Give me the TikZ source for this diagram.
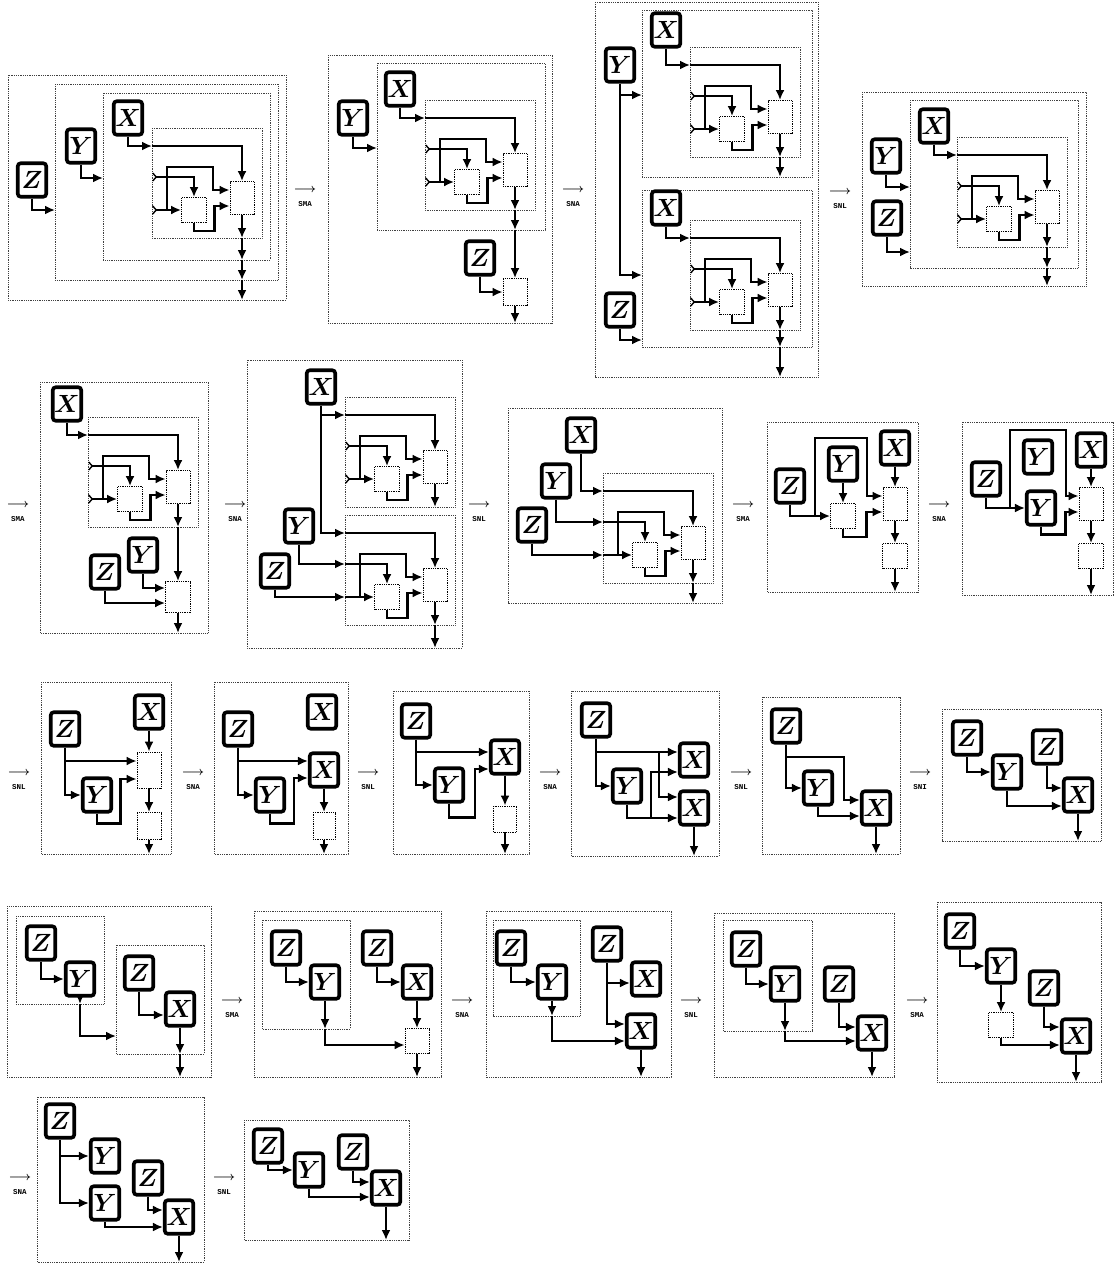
\documentclass[tikz,border=0pt]{standalone}
\usepackage{fontspec}
\newfontfamily\labfont{Liberation Mono}
\usetikzlibrary{arrows.meta,calc}
\tikzset{
 arr/.style={line width=2.6pt, -{Latex[length=10pt,width=9pt]}},
 fk/.style={line width=2.6pt, arrows={Straight Barb[reversed,length=3.5pt,width=8pt,line width=1.4pt]-Latex[length=10pt,width=9pt]}},
 var/.style={draw, line width=3.6pt, rounded corners=3pt, minimum width=28.5pt, minimum height=33.5pt, inner sep=0pt, fill=white, font=\fontsize{23}{23}\selectfont\boldmath},
 ebox/.style={draw, densely dotted, line width=0.8pt, inner sep=0pt, minimum width=25pt, minimum height=25pt},
 bigbox/.style={ebox, minimum width=24pt, minimum height=33pt},
 frm/.style={densely dotted, line width=0.8pt, black!75},
 lab/.style={align=center, inner sep=0pt}
}
\newcommand\corepanel[4]{%
\begin{scope}[shift={(#2,#3)}]
\draw[frm] (0,0) rectangle (110,110);
\node[ebox] (#1A) at (42,82) {};
\node[bigbox] (#1B) at (90,70) {};
\coordinate (#1in) at (0,18);
\coordinate (#1fa) at (0,49);
\coordinate (#1fb) at (0,82);
\coordinate (#1bot) at (90,110);
\draw[arr] (#1in) -| (#1B.north);
\draw[#4] (#1fa) -| (#1A.north);
\draw[#4] (#1fb) -- (#1A.west);
\draw[arr] (15,82) |- (61,39) |- ($(#1B.west)+(0,-8)$);
\draw[arr] (#1A.south) -- ++(0,8) -| ($(#1B.west)+(-15,8)$) -- ($(#1B.west)+(0,8)$);
\draw[arr] (#1B.south) -- (#1bot);
\end{scope}}
\newcommand\trans[4]{\node[lab] (#1) at (#2,#3) {{\fontsize{13}{13}\selectfont\boldmath$\longrightarrow$}\\[2pt]{\fontsize{7.5}{8}\selectfont\labfont\bfseries #4}};}
\begin{document}
\begin{tikzpicture}[x=1pt,y=-1pt]
\useasboundingbox (0,0) rectangle (1114,1266);
% ---------------- Row 1 ----------------
% P1
\draw[frm] (8,75) rectangle (286,300);
\draw[frm] (55,84) rectangle (278,280);
\draw[frm] (103,93) rectangle (270,260);
\corepanel{a}{152}{128}{fk}
\node[var] (p1z) at (32,180) {$Z$};
\node[var] (p1y) at (81,146) {$Y$};
\node[var] (p1x) at (128,118) {$X$};
\draw[arr] (p1z.south) |- (55,210);
\draw[arr] (p1y.south) |- (103,178);
\draw[arr] (p1x.south) |- (ain);
\draw[arr] (abot) -- (242,260);
\draw[arr] (242,260) -- (242,280);
\draw[arr] (242,280) -- (242,300);
\trans{t1}{305}{197}{SMA}
% P2
\draw[frm] (328,55) rectangle (552,323);
\draw[frm] (377,63) rectangle (545,230);
\corepanel{b}{425}{100}{fk}
\node[var] (p2x) at (400,89) {$X$};
\node[var] (p2y) at (353,118) {$Y$};
\node[var] (p2z) at (480,258) {$Z$};
\node[ebox, minimum width=24pt, minimum height=27pt] (p2c) at (515,292) {};
\draw[arr] (p2x.south) |- (bin);
\draw[arr] (p2y.south) |- (377,148);
\draw[arr] (bbot) -- (515,230);
\draw[arr] (515,230) -- (p2c.north);
\draw[arr] (p2z.south) |- (p2c.west);
\draw[arr] (p2c.south) -- (515,323);
\trans{t2}{573}{197}{SNA}
% P3
\draw[frm] (595,2) rectangle (818,377);
\draw[frm] (642,10) rectangle (812,177);
\draw[frm] (642,190) rectangle (812,347);
\corepanel{c}{690}{47}{fk}
\corepanel{d}{690}{220}{fk}
\node[var] (p3xa) at (666,30) {$X$};
\node[var] (p3xb) at (666,208) {$X$};
\node[var] (p3y) at (620,65) {$Y$};
\node[var] (p3z) at (620,310) {$Z$};
\draw[arr] (p3xa.south) |- (cin);
\draw[arr] (p3xb.south) |- (din);
\draw[arr] (p3y.south) |- (642,275);
\draw[arr] (620,95) -- (642,95);
\draw[arr] (p3z.south) |- (642,340);
\draw[arr] (cbot) -- (780,177);
\draw[arr] (dbot) -- (780,347);
\draw[arr] (780,347) -- (780,377);
\trans{t3}{840}{199}{SNL}
% P4
\draw[frm] (862,92) rectangle (1086,286);
\draw[frm] (910,100) rectangle (1078,268);
\corepanel{e}{957}{137}{fk}
\node[var] (p4x) at (934,126) {$X$};
\node[var] (p4y) at (886,156) {$Y$};
\node[var] (p4z) at (887,218) {$Z$};
\draw[arr] (p4x.south) |- (ein);
\draw[arr] (p4y.south) |- (910,187);
\draw[arr] (p4z.south) |- (910,252);
\draw[arr] (ebot) -- (1047,268);
\draw[arr] (1047,268) -- (1047,286);
% ---------------- Row 2 ----------------
\trans{t4}{18}{512}{SMA}
% P5
\draw[frm] (40,382) rectangle (208,633);
\corepanel{f}{88}{417}{fk}
\node[var] (p5x) at (67,404) {$X$};
\node[var] (p5y) at (143,555) {$Y$};
\node[var] (p5z) at (105,572) {$Z$};
\node[ebox, minimum height=31pt] (p5c) at (178,597) {};
\draw[arr] (p5x.south) |- (fin);
\draw[arr] (fbot) -- (p5c.north);
\draw[arr] (p5y.south) |- ($(p5c.west)+(0,-9)$);
\draw[arr] (p5z.south) |- ($(p5c.west)+(0,6)$);
\draw[arr] (p5c.south) -- (178,633);
\trans{t5}{235}{512}{SNA}
% P6
\draw[frm] (247,360) rectangle (462,648);
\corepanel{g}{345}{397}{fk}
\corepanel{h}{345}{515}{arr}
\node[var] (p6x) at (321,387) {$X$};
\node[var] (p6y) at (299,526) {$Y$};
\node[var] (p6z) at (275,571) {$Z$};
\draw[arr] (p6x.south) |- (hin);
\draw[arr] (321,415) -- (gin);
\draw[arr] (p6y.south) |- (hfa);
\draw[arr] (p6z.south) |- (hfb);
\draw[arr] (hbot) -- (435,648);
\trans{t6}{479}{512}{SNL}
% P7
\draw[frm] (508,408) rectangle (722,603);
\corepanel{i}{603}{473}{arr}
\node[var] (p7x) at (581,435) {$X$};
\node[var] (p7y) at (556,481) {$Y$};
\node[var] (p7z) at (532,525) {$Z$};
\draw[arr] (p7x.south) |- (iin);
\draw[arr] (p7y.south) |- (ifa);
\draw[arr] (p7z.south) |- (ifb);
\draw[arr] (ibot) -- (693,603);
\trans{t7}{743}{512}{SMA}
% P8
\draw[frm] (767,422) rectangle (918,592);
\node[var] (p8z) at (790,486) {$Z$};
\node[var] (p8y) at (843,464) {$Y$};
\node[var] (p8x) at (895,448) {$X$};
\node[ebox] (p8a) at (843,516) {};
\node[bigbox] (p8b) at (895,504) {};
\node[ebox] (p8c) at (895,556) {};
\draw[arr] (p8y.south) -- (p8a.north);
\draw[arr] (p8z.south) |- (p8a.west);
\draw[arr] (815,516) |- (867,438) |- ($(p8b.west)+(0,-8)$);
\draw[arr] (p8a.south) -- ++(0,8) -| ($(p8b.west)+(-16,8)$) -- ($(p8b.west)+(0,8)$);
\draw[arr] (p8x.south) -- (p8b.north);
\draw[arr] (p8b.south) -- (p8c.north);
\draw[arr] (p8c.south) -- (895,592);
\trans{t8}{939}{512}{SNA}
% P9
\draw[frm] (962,422) rectangle (1113,595);
\node[var] (p9z) at (986,479) {$Z$};
\node[var] (p9ya) at (1038,457) {$Y$};
\node[var] (p9yb) at (1041,508) {$Y$};
\node[var] (p9x) at (1091,450) {$X$};
\node[bigbox] (p9b) at (1091,504) {};
\node[ebox] (p9c) at (1091,556) {};
\draw[arr] (p9z.south) |- (p9yb.west);
\draw[arr] (1010,508) |- (1066,430) |- ($(p9b.west)+(0,-8)$);
\draw[arr] (p9yb.south) -- ++(0,8) -| ($(p9b.west)+(-13,8)$) -- ($(p9b.west)+(0,8)$);
\draw[arr] (p9x.south) -- (p9b.north);
\draw[arr] (p9b.south) -- (p9c.north);
\draw[arr] (p9c.south) -- (1091,595);
% ---------------- Row 3 ----------------
\trans{t9}{19}{780}{SNL}
% P10
\draw[frm] (41,682) rectangle (171,854);
\node[var] (p10z) at (65,729) {$Z$};
\node[var] (p10y) at (97,795) {$Y$};
\node[var] (p10x) at (149,712) {$X$};
\node[ebox, minimum width=24pt, minimum height=36pt] (p10b) at (149,770) {};
\node[ebox, minimum width=24pt, minimum height=27pt] (p10c) at (149,826) {};
\draw[arr] (p10z.south) |- (p10y.west);
\draw[arr] (65,761) -- ($(p10b.west)+(0,-9)$);
\draw[arr] (p10y.south) -- ++(0,10) -| ($(p10b.west)+(-16,9)$) -- ($(p10b.west)+(0,9)$);
\draw[arr] (p10x.south) -- (p10b.north);
\draw[arr] (p10b.south) -- (p10c.north);
\draw[arr] (p10c.south) -- (149,854);
\trans{t10}{193}{780}{SNA}
% P11
\draw[frm] (214,682) rectangle (348,854);
\node[var] (p11z) at (238,729) {$Z$};
\node[var] (p11y) at (270,795) {$Y$};
\node[var] (p11xa) at (322,712) {$X$};
\node[var] (p11xb) at (324,770) {$X$};
\node[ebox, minimum width=22pt, minimum height=27pt] (p11c) at (324,826) {};
\draw[arr] (p11z.south) |- (p11y.west);
\draw[arr] (238,761) -- ($(p11xb.west)+(0,-9)$);
\draw[arr] (p11y.south) -- ++(0,10) -| ($(p11xb.west)+(-14,8)$) -- ($(p11xb.west)+(0,8)$);
\draw[arr] (p11xb.south) -- (p11c.north);
\draw[arr] (p11c.south) -- (324,854);
\trans{t11}{368}{780}{SNL}
% P12
\draw[frm] (393,691) rectangle (529,854);
\node[var] (p12z) at (416,721) {$Z$};
\node[var] (p12y) at (449,785) {$Y$};
\node[var] (p12x) at (505,757) {$X$};
\node[ebox, minimum width=23pt, minimum height=26pt] (p12c) at (505,819) {};
\draw[arr] (p12z.south) |- (p12y.west);
\draw[arr] (416,752) -- ($(p12x.west)+(0,-5)$);
\draw[arr] (p12y.south) -- ++(0,14) -| ($(p12x.west)+(-14,12)$) -- ($(p12x.west)+(0,12)$);
\draw[arr] (p12x.south) -- (p12c.north);
\draw[arr] (p12c.south) -- (505,854);
\trans{t12}{550}{780}{SNA}
% P13
\draw[frm] (571,691) rectangle (719,856);
\node[var] (p13z) at (596,720) {$Z$};
\node[var] (p13y) at (627,786) {$Y$};
\node[var] (p13xa) at (694,760) {$X$};
\node[var] (p13xb) at (694,808) {$X$};
\draw[arr] (p13z.south) |- (p13y.west);
\draw[arr] (596,752) -- ($(p13xa.west)+(0,-8)$);
\draw[arr] (659,752) |- ($(p13xb.west)+(0,-11)$);
\draw[arr] (p13y.south) |- ($(p13xb.west)+(0,10)$);
\draw[arr] (651,818) |- ($(p13xa.west)+(0,12)$);
\draw[arr] (p13xb.south) -- (694,856);
\trans{t13}{741}{780}{SNL}
% P14
\draw[frm] (762,697) rectangle (900,854);
\node[var] (p14z) at (786,726) {$Z$};
\node[var] (p14y) at (818,788) {$Y$};
\node[var] (p14x) at (876,808) {$X$};
\draw[arr] (p14z.south) |- (p14y.west);
\draw[arr] (786,757) -| (844,800) -- ($(p14x.west)+(0,-8)$);
\draw[arr] (p14y.south) |- ($(p14x.west)+(0,8)$);
\draw[arr] (p14x.south) -- (876,854);
\trans{t14}{920}{780}{SNI}
% P15
\draw[frm] (942,709) rectangle (1101,841);
\node[var] (p15za) at (967,738) {$Z$};
\node[var] (p15y) at (1007,772) {$Y$};
\node[var] (p15zb) at (1047,747) {$Z$};
\node[var] (p15x) at (1078,795) {$X$};
\draw[arr] (p15za.south) |- (p15y.west);
\draw[arr] (p15zb.south) |- ($(p15x.west)+(0,-7)$);
\draw[arr] (p15y.south) |- ($(p15x.west)+(0,11)$);
\draw[arr] (p15x.south) -- (1078,841);
% ---------------- Row 4 ----------------
% P16
\draw[frm] (7,906) rectangle (211,1077);
\draw[frm] (16,916) rectangle (104,1004);
\draw[frm] (116,945) rectangle (204,1054);
\node[var] (p16za) at (41,943) {$Z$};
\node[var] (p16y) at (80,979) {$Y$};
\node[var] (p16zb) at (139,973) {$Z$};
\node[var] (p16x) at (180,1009) {$X$};
\draw[arr] (p16za.south) |- (p16y.west);
\draw[arr] (p16y.south) -- (80,1004);
\draw[arr] (80,1004) |- (116,1036);
\draw[arr] (p16zb.south) |- ($(p16x.west)+(0,6)$);
\draw[arr] (p16x.south) -- (180,1054);
\draw[arr] (180,1054) -- (180,1077);
\trans{t15}{232}{1008}{SMA}
% P17
\draw[frm] (254,911) rectangle (441,1077);
\draw[frm] (262,920) rectangle (350,1029);
\node[var] (p17za) at (286,948) {$Z$};
\node[var] (p17y) at (325,982) {$Y$};
\node[var] (p17zb) at (377,948) {$Z$};
\node[var] (p17x) at (417,982) {$X$};
\node[ebox, minimum width=24pt] (p17c) at (417,1041) {};
\draw[arr] (p17za.south) |- (p17y.west);
\draw[arr] (p17zb.south) |- (p17x.west);
\draw[arr] (p17y.south) -- (325,1029);
\draw[arr] (325,1029) |- ($(p17c.west)+(0,4)$);
\draw[arr] (p17x.south) -- (p17c.north);
\draw[arr] (p17c.south) -- (417,1077);
\trans{t16}{462}{1008}{SNA}
% P18
\draw[frm] (486,911) rectangle (671,1077);
\draw[frm] (493,920) rectangle (580,1016);
\node[var] (p18za) at (511,948) {$Z$};
\node[var] (p18y) at (552,982) {$Y$};
\node[var] (p18zb) at (607,944) {$Z$};
\node[var] (p18xa) at (646,979) {$X$};
\node[var] (p18xb) at (641,1031) {$X$};
\draw[arr] (p18za.south) |- (p18y.west);
\draw[arr] (p18y.south) -- (552,1016);
\draw[arr] (552,1016) |- ($(p18xb.west)+(0,10)$);
\draw[arr] (p18zb.south) |- ($(p18xa.west)+(0,4)$);
\draw[arr] (607,983) |- ($(p18xb.west)+(0,-7)$);
\draw[arr] (p18xb.south) -- (641,1077);
\trans{t17}{691}{1008}{SNL}
% P19
\draw[frm] (714,913) rectangle (894,1077);
\draw[frm] (723,920) rectangle (812,1031);
\node[var] (p19za) at (746,949) {$Z$};
\node[var] (p19y) at (785,984) {$Y$};
\node[var] (p19zb) at (839,984) {$Z$};
\node[var] (p19x) at (872,1033) {$X$};
\draw[arr] (p19za.south) |- (p19y.west);
\draw[arr] (p19y.south) -- (785,1031);
\draw[arr] (785,1031) |- ($(p19x.west)+(0,8)$);
\draw[arr] (p19zb.south) |- ($(p19x.west)+(0,-6)$);
\draw[arr] (p19x.south) -- (872,1077);
\trans{t18}{917}{1008}{SMA}
% P20
\draw[frm] (937,902) rectangle (1101,1082);
\node[var] (p20za) at (960,931) {$Z$};
\node[var] (p20y) at (1001,966) {$Y$};
\node[ebox] (p20a) at (1001,1025) {};
\node[var] (p20zb) at (1044,988) {$Z$};
\node[var] (p20x) at (1076,1036) {$X$};
\draw[arr] (p20za.south) |- (p20y.west);
\draw[arr] (p20y.south) -- (p20a.north);
\draw[arr] (p20a.south) |- ($(p20x.west)+(0,9)$);
\draw[arr] (p20zb.south) |- ($(p20x.west)+(0,-9)$);
\draw[arr] (p20x.south) -- (1076,1082);
% ---------------- Row 5 ----------------
\trans{t19}{20}{1185}{SNA}
% P21
\draw[frm] (37,1097) rectangle (204,1262);
\node[var] (p21za) at (60,1121) {$Z$};
\node[var] (p21ya) at (105,1156) {$Y$};
\node[var] (p21yb) at (105,1203) {$Y$};
\node[var] (p21zb) at (148,1178) {$Z$};
\node[var] (p21x) at (179,1217) {$X$};
\draw[arr] (p21za.south) |- (p21ya.west);
\draw[arr] (60,1156) |- (p21yb.west);
\draw[arr] (p21zb.south) |- ($(p21x.west)+(0,-7)$);
\draw[arr] (p21yb.south) |- ($(p21x.west)+(0,10)$);
\draw[arr] (p21x.south) -- (179,1262);
\trans{t20}{224}{1185}{SNL}
% P22
\draw[frm] (244,1120) rectangle (409,1240);
\node[var] (p22za) at (268,1146) {$Z$};
\node[var] (p22y) at (309,1170) {$Y$};
\node[var] (p22zb) at (353,1152) {$Z$};
\node[var] (p22x) at (386,1188) {$X$};
\draw[arr] (p22za.south) |- (p22y.west);
\draw[arr] (p22y.south) |- ($(p22x.west)+(0,9)$);
\draw[arr] (p22zb.south) |- ($(p22x.west)+(0,-6)$);
\draw[arr] (p22x.south) -- (386,1240);
\end{tikzpicture}
\end{document}
